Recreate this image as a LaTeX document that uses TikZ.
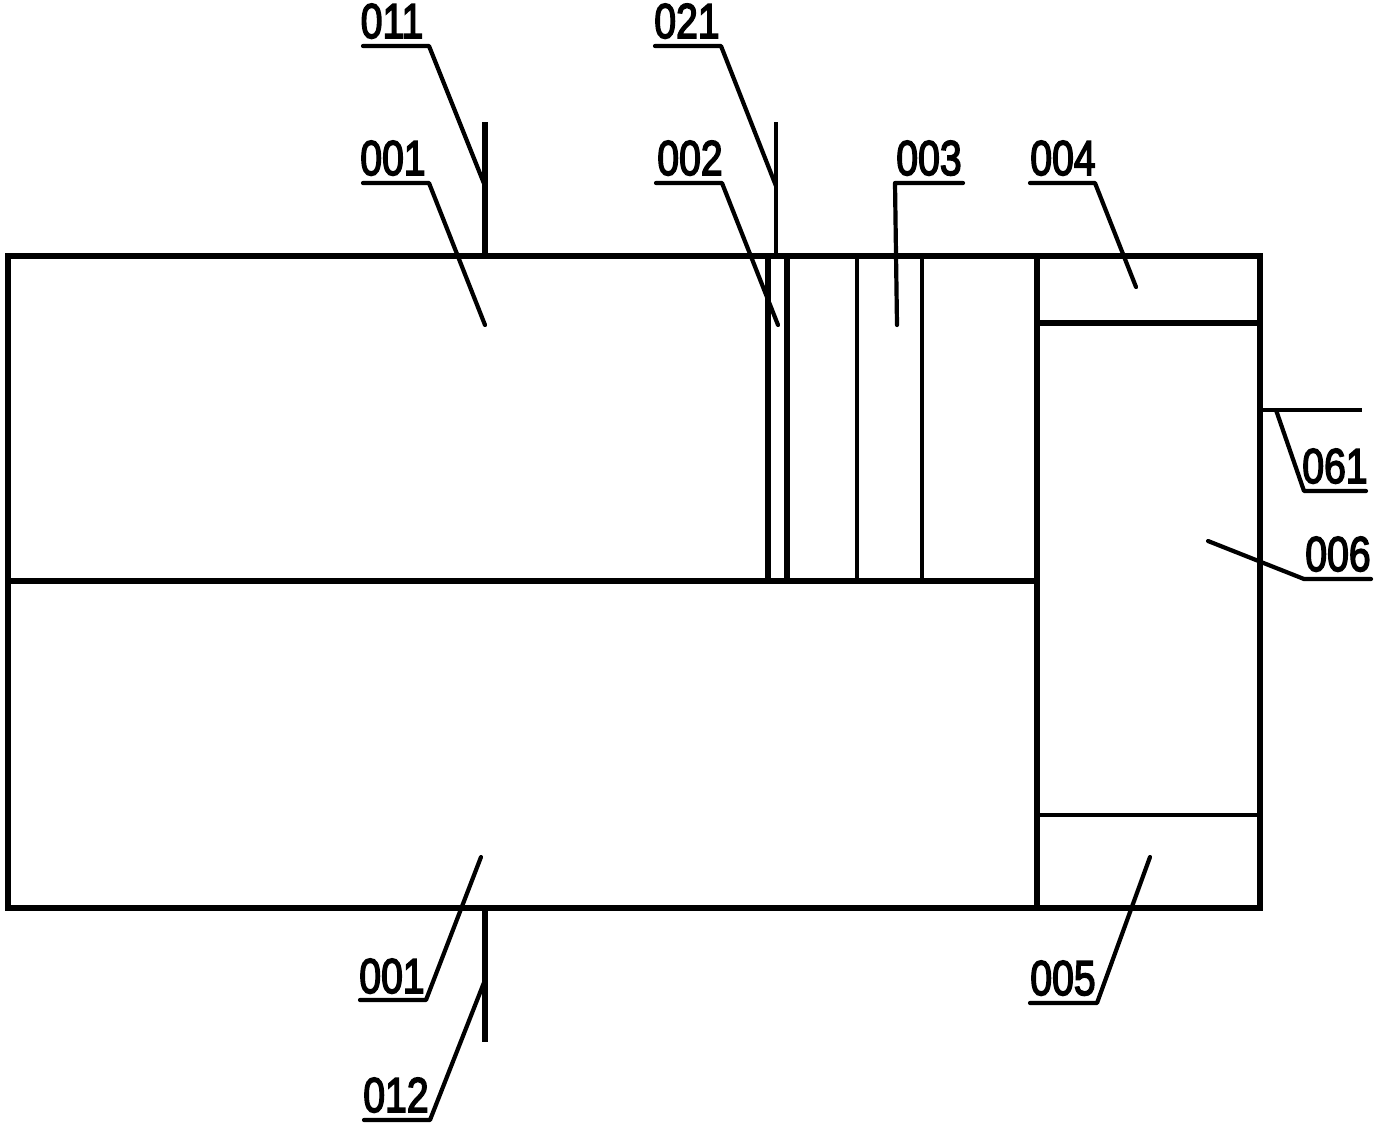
\documentclass[tikz,border=0pt]{standalone}
\usepackage{fontspec}
\setmainfont{Liberation Sans}
\newfontfamily\numfont[FakeBold=3.5]{Liberation Sans}
\tikzset{
  heavy/.style={line width=5.3pt,line cap=rect,line join=miter},
  mid/.style={line width=4.8pt,line cap=butt},
  leader/.style={line width=4.2pt,line cap=round,line join=round},
  num/.style={inner sep=0pt,anchor=base,font=\numfont\fontsize{49}{49}\selectfont,xscale=.80,transform shape}
}
\begin{document}
\begin{tikzpicture}[x=1pt,y=-1pt]
\useasboundingbox (0,0) rectangle (1379,1128);
% body
\draw[heavy] (8,256) rectangle (1260,908);
\draw[heavy] (8,581) -- (1037,581);
\draw[heavy] (1037,256) -- (1037,908);
\draw[heavy] (768,256) -- (768,581);
\draw[heavy] (787,256) -- (787,581);
\draw[mid] (857,256) -- (857,581);
\draw[mid] (922,256) -- (922,581);
\draw[heavy] (1037,323) -- (1260,323);
\draw[mid] (1037,815) -- (1260,815);
% pins
\draw[heavy,line cap=butt] (485,122) -- (485,256);
\draw[heavy,line cap=butt] (485,908) -- (485,1042);
\draw[mid] (776,122) -- (776,256);
\draw[mid] (1260,410) -- (1362,410);
% labels
\node[num] (n011) at (392,38) {011};
\node[num] (n021) at (687,38) {021};
\node[num] (n001a) at (393,175) {001};
\node[num] (n002) at (690,175) {002};
\node[num] (n003) at (929,175) {003};
\node[num] (n004) at (1063,175) {004};
\node[num] (n061) at (1335,483) {061};
\node[num] (n006) at (1338,571) {006};
\node[num] (n001b) at (392,993) {001};
\node[num] (n005) at (1063,995) {005};
\node[num] (n012) at (396,1112) {012};
% leaders
\draw[leader] (363,46) -- (429,46) -- (485,186);
\draw[leader] (655,46) -- (721,46) -- (776,186);
\draw[leader] (363,183) -- (429,183) -- (485,325);
\draw[leader] (656,183) -- (722,183) -- (778,325);
\draw[leader] (963,183) -- (895,183) -- (897,325);
\draw[leader] (1030,183) -- (1095,183) -- (1136,287);
\draw[leader] (1366,491) -- (1304,491) -- (1276,410);
\draw[leader] (1371,579) -- (1304,579) -- (1208,541);
\draw[leader] (360,1000) -- (426,1000) -- (481,857);
\draw[leader] (1030,1003) -- (1097,1003) -- (1150,857);
\draw[leader] (364,1120) -- (430,1120) -- (485,980);
\end{tikzpicture}
\end{document}
